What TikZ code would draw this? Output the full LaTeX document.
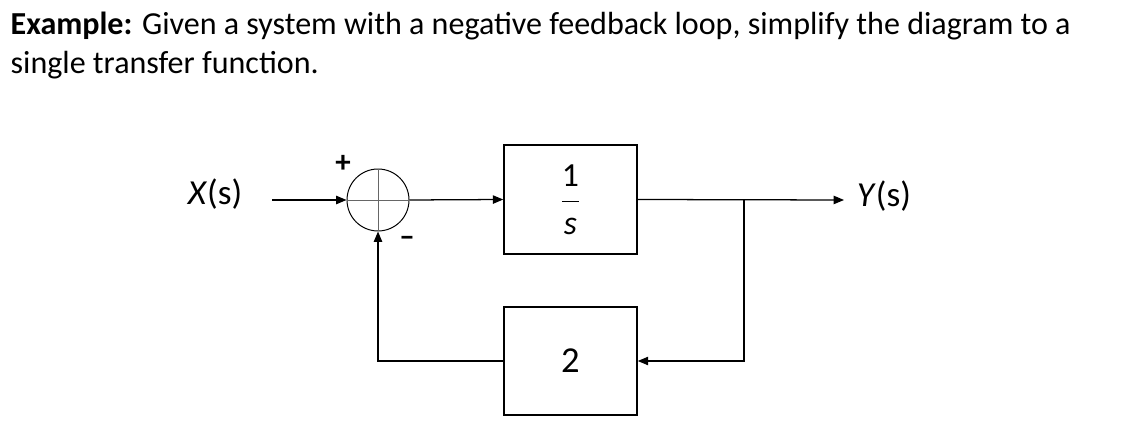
\documentclass[tikz,border=0pt]{standalone}
\usepackage{amsmath}
\usepackage{fontspec}
\setmainfont{Carlito}
\usetikzlibrary{arrows.meta,positioning,calc}

\begin{document}
\begin{tikzpicture}[x=0.25mm, y=-0.25mm, line width=0.9pt,
  sig/.style={-{Triangle[length=2.6mm,width=2.1mm]}},
  blk/.style={draw, line width=1.1pt, minimum width=33.25mm, minimum height=27.25mm, inner sep=0pt},
  lbl/.style={font=\fontsize{25}{30}\selectfont},
  ttl/.style={anchor=base west, inner sep=0pt, font=\fontsize{22.8}{28}\selectfont}]
\useasboundingbox (0,0) rectangle (1128,440);
% heading
\node[ttl] (title1) at (10,35) {\textbf{Example:} Given a system with a negative feedback loop, simplify the diagram to a};
\node[ttl] (title2) at (10,74) {single transfer function.};
% blocks
\node[lbl] (xin) at (215,194) {\textit{X}(s)};
\coordinate (xstart) at (272,200);
\node[draw, circle, line width=0.7pt, minimum size=15.5mm, inner sep=0pt] (sum) at (378,200) {};
\draw[line width=0.6pt, gray!80!black] (sum.north) -- (sum.south);
\draw[line width=0.6pt, gray!80!black] (sum.west) -- (sum.east);
\node[font=\bfseries\fontsize{22}{26}\selectfont] (plus) at (343,164) {+};
\node[font=\bfseries\fontsize{22}{26}\selectfont] (minus) at (407,241) {–};
\node[blk, font=\fontsize{24}{28}\selectfont] (fwd) at (570.5,199.5) {$\dfrac{\text{1}}{\text{\textit{s}}}$};
\node[blk, minimum height=27mm, font=\fontsize{26}{30}\selectfont] (fb) at (570.5,361) {2};
\node[lbl] (yout) at (884,196) {\textit{Y}(s)};
\coordinate (tap) at (744,200);
\coordinate (yend) at (844,200);
% signals
\draw[sig] (xstart) -- (sum.west);
\draw[sig] (sum.east) -- (fwd.west);
\draw[sig] (fwd.east) -- (yend);
\draw[sig] (tap) |- (fb.east);
\draw[sig] (fb.west) -| (sum.south);
\end{tikzpicture}
\end{document}
